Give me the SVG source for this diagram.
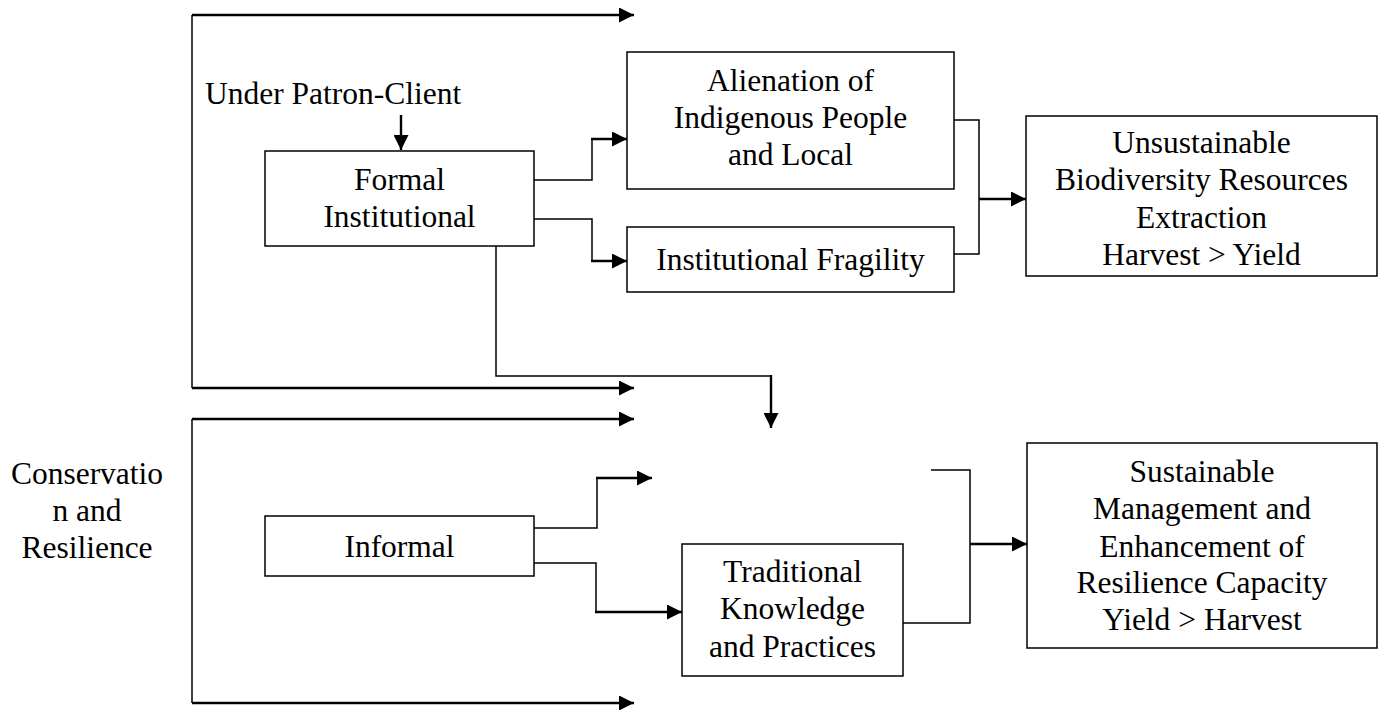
<svg xmlns="http://www.w3.org/2000/svg" width="1380" height="710" viewBox="0 0 1380 710">
<style>
  text { font-family: "Liberation Serif", "Times New Roman", serif; font-size: 31.5px; fill: #000; }
  .c { text-anchor: middle; }
  .box { fill: #fff; stroke: #000; stroke-width: 1.5; }
  .thin { fill: none; stroke: #000; stroke-width: 1.5; }
  .thick { fill: none; stroke: #000; stroke-width: 2.4; }
</style>
<defs>
  <marker id="ah" markerUnits="userSpaceOnUse" markerWidth="16" markerHeight="15" refX="15" refY="7.5" orient="auto">
    <path d="M0,0 L15,7.5 L0,15 z" fill="#000"/>
  </marker>
</defs>
<rect width="1380" height="710" fill="#fff"/>

<g id="connectors">
  <!-- top frame -->
  <path class="thin" d="M192,15 L192,388"/>
  <path class="thick" d="M192,15 L634,15" marker-end="url(#ah)"/>
  <path class="thick" d="M192,388 L634,388" marker-end="url(#ah)"/>
  <!-- bottom frame -->
  <path class="thin" d="M192,419 L192,703"/>
  <path class="thick" d="M192,419 L634,419" marker-end="url(#ah)"/>
  <path class="thick" d="M192,703 L634,703" marker-end="url(#ah)"/>
  <!-- under patron-client -->
  <path class="thick" d="M401,115 L401,150" marker-end="url(#ah)"/>
  <!-- formal to alienation -->
  <path class="thin" d="M534,180 L592,180 L592,139"/>
  <path class="thick" d="M591,139 L627,139" marker-end="url(#ah)"/>
  <!-- formal to fragility -->
  <path class="thin" d="M534,219 L592,219 L592,261"/>
  <path class="thick" d="M591,261 L627,261" marker-end="url(#ah)"/>
  <!-- formal down -->
  <path class="thin" d="M496,246 L496,376 L771,376"/>
  <path class="thick" d="M771,375 L771,428" marker-end="url(#ah)"/>
  <!-- top bracket -->
  <path class="thin" d="M954,120 L979,120 L979,254 L954,254"/>
  <path class="thick" d="M979,199 L1026,199" marker-end="url(#ah)"/>
  <!-- informal up -->
  <path class="thin" d="M534,528 L597,528 L597,478"/>
  <path class="thick" d="M596,478 L652,478" marker-end="url(#ah)"/>
  <!-- informal to traditional -->
  <path class="thin" d="M534,563 L596,563 L596,612"/>
  <path class="thick" d="M595,612 L682,612" marker-end="url(#ah)"/>
  <!-- bottom bracket -->
  <path class="thin" d="M931,470 L970,470 L970,623 L903,623"/>
  <path class="thick" d="M970,544 L1027,544" marker-end="url(#ah)"/>
</g>

<g id="under-patron-client">
  <text x="205" y="104">Under Patron-Client</text>
</g>

<g id="conservation">
  <text class="c" x="87" y="484">Conservatio</text>
  <text class="c" x="87" y="521">n and</text>
  <text class="c" x="87" y="558">Resilience</text>
</g>

<g id="formal">
  <rect class="box" x="265" y="151" width="269" height="95"/>
  <text class="c" x="399.5" y="190">Formal</text>
  <text class="c" x="399.5" y="227">Institutional</text>
</g>

<g id="alienation">
  <rect class="box" x="627" y="52" width="327" height="137"/>
  <text class="c" x="790.5" y="91">Alienation of</text>
  <text class="c" x="790.5" y="128">Indigenous People</text>
  <text class="c" x="790.5" y="165">and Local</text>
</g>

<g id="fragility">
  <rect class="box" x="627" y="227" width="327" height="65"/>
  <text class="c" x="790.5" y="270">Institutional Fragility</text>
</g>

<g id="unsustainable">
  <rect class="box" x="1026" y="116" width="351" height="160"/>
  <text class="c" x="1201.5" y="153">Unsustainable</text>
  <text class="c" x="1201.5" y="190">Biodiversity Resources</text>
  <text class="c" x="1201.5" y="228">Extraction</text>
  <text class="c" x="1201.5" y="265">Harvest &gt; Yield</text>
</g>

<g id="informal">
  <rect class="box" x="265" y="516" width="269" height="60"/>
  <text class="c" x="399.5" y="557">Informal</text>
</g>

<g id="traditional">
  <rect class="box" x="682" y="544" width="221" height="132"/>
  <text class="c" x="792.5" y="582">Traditional</text>
  <text class="c" x="792.5" y="619">Knowledge</text>
  <text class="c" x="792.5" y="657">and Practices</text>
</g>

<g id="sustainable">
  <rect class="box" x="1027" y="443" width="350" height="205"/>
  <text class="c" x="1202" y="482">Sustainable</text>
  <text class="c" x="1202" y="519">Management and</text>
  <text class="c" x="1202" y="557">Enhancement of</text>
  <text class="c" x="1202" y="593">Resilience Capacity</text>
  <text class="c" x="1202" y="630">Yield &gt; Harvest</text>
</g>
</svg>
